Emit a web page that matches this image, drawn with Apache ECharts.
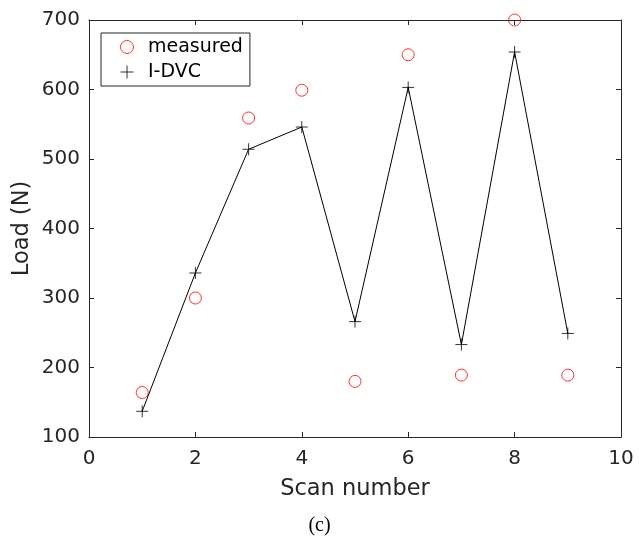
<!DOCTYPE html>
<html>
<head>
<meta charset="utf-8">
<script src="https://cdn.jsdelivr.net/npm/echarts@6/dist/echarts.min.js"></script>
<style>
html,body{margin:0;padding:0;background:#fff;}
#chart{width:639px;height:538px;}
</style>
</head>
<body>
<div id="chart"></div>
<script>
var scanNumbers = [1, 2, 3, 4, 5, 6, 7, 8, 9];
var measuredLoad = [164, 300, 559, 599, 180, 650, 189, 700, 189];
var idvcLoad = [137, 336, 514, 546, 266, 603, 233, 654, 249];
var xTicks = [0, 2, 4, 6, 8, 10];
var yTicks = [100, 200, 300, 400, 500, 600, 700];

var axisColor = '#262626';
var plusPath = 'path://M0,6L12,6M6,0L6,12';

function pairs(xs, ys) { return xs.map(function (x, i) { return [x, ys[i]]; }); }

var chart = echarts.init(document.getElementById('chart'), null, {renderer: 'canvas'});

var baseX = {
  type: 'value', min: xTicks[0], max: xTicks[xTicks.length - 1], interval: 2,
  axisLine: {show: true, onZero: false, lineStyle: {color: axisColor, width: 1}},
  axisTick: {show: true, inside: true, length: 5, lineStyle: {color: axisColor}},
  splitLine: {show: false}
};
var baseY = {
  type: 'value', min: yTicks[0], max: yTicks[yTicks.length - 1], interval: 100,
  axisLine: {show: true, onZero: false, lineStyle: {color: axisColor, width: 1}},
  axisTick: {show: true, inside: true, length: 5, lineStyle: {color: axisColor}},
  splitLine: {show: false}
};

chart.setOption({
  animation: false,
  backgroundColor: '#fff',
  grid: {left: 89, top: 20, width: 532, height: 417, containLabel: false},
  xAxis: [
    Object.assign({}, baseX, {
      position: 'bottom',
      name: 'Scan number', nameLocation: 'middle', nameGap: 41,
      nameTextStyle: {color: axisColor, fontSize: 22.5, fontFamily: 'DejaVu Sans'},
      axisLabel: {color: axisColor, fontSize: 20, fontFamily: 'DejaVu Sans', margin: 12}
    }),
    Object.assign({}, baseX, {position: 'top', axisLabel: {show: false}})
  ],
  yAxis: [
    Object.assign({}, baseY, {
      position: 'left',
      name: 'Load (N)', nameLocation: 'middle', nameGap: 55, nameMoveOverlap: false,
      nameTextStyle: {color: axisColor, fontSize: 22.5, fontFamily: 'DejaVu Sans'},
      axisLabel: {color: axisColor, fontSize: 20, fontFamily: 'DejaVu Sans', margin: 9}
    }),
    Object.assign({}, baseY, {position: 'right', axisLabel: {show: false}})
  ],
  legend: {
    orient: 'vertical', left: 101, top: 33,
    padding: [4, 7, 4, 17], itemGap: 5,
    itemWidth: 32, itemHeight: 13,
    borderColor: axisColor, borderWidth: 1, borderRadius: 0,
    backgroundColor: '#fff',
    textStyle: {color: '#000', fontSize: 19, fontFamily: 'DejaVu Sans', lineHeight: 20},
    data: [
      {name: 'measured', icon: 'circle', itemStyle: {color: 'none', borderColor: '#ff0000', borderWidth: 1}},
      {name: 'I-DVC', icon: plusPath, itemStyle: {color: 'none', borderColor: '#000', borderWidth: 1}}
    ]
  },
  series: [
    {
      name: 'measured', type: 'scatter', xAxisIndex: 0, yAxisIndex: 0,
      data: pairs(scanNumbers, measuredLoad),
      symbol: 'circle', symbolSize: 12,
      itemStyle: {color: 'none', borderColor: '#ff0000', borderWidth: 1},
      emphasis: {disabled: true}, z: 2
    },
    {
      name: 'I-DVC line', type: 'line', xAxisIndex: 0, yAxisIndex: 0,
      data: pairs(scanNumbers, idvcLoad),
      showSymbol: false, symbol: 'none',
      lineStyle: {color: '#000', width: 1},
      emphasis: {disabled: true}, z: 3
    },
    {
      name: 'I-DVC', type: 'scatter', xAxisIndex: 0, yAxisIndex: 0,
      data: pairs(scanNumbers, idvcLoad),
      symbol: plusPath, symbolSize: 12,
      itemStyle: {color: 'none', borderColor: '#000', borderWidth: 1},
      emphasis: {disabled: true}, z: 4
    }
  ],
  graphic: [
    {
      type: 'text', left: 'center', top: 516,
      style: {text: '(c)', font: '20px "Liberation Serif"', fill: '#000', textAlign: 'center'}
    }
  ]
});
</script>
</body>
</html>
